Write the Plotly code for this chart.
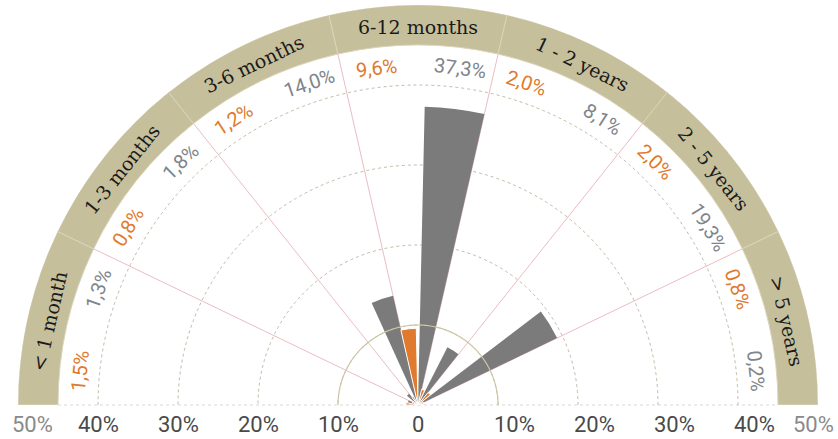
import math
import plotly.graph_objects as go

# ---------------- data ----------------
categories = ["< 1 month", "1-3 months", "3-6 months", "6-12 months",
              "1 - 2 years", "2 - 5 years", "> 5 years"]
orange_vals = [1.5, 0.8, 1.2, 9.6, 2.0, 2.0, 0.8]
gray_vals = [1.3, 1.8, 14.0, 37.3, 8.1, 19.3, 0.2]
grid_ticks = [10, 20, 30, 40]
tick_labels = ["10%", "20%", "30%", "40%"]
outer_label = "50%"

# ---------------- styling ----------------
ORANGE = "#e07a2e"
GRAY = "#7b7b7b"
GRAY_TXT = "#80858b"
TAN = "#c6bf9c"
TAN_LINE = "#d9d4bb"
PINK = "#ebbcc3"
W, H = 838, 439
CX, BASE_Y, R50 = 418, 405, 400   # pixel centre / baseline / 50% radius
Y_LOW = -4                         # room below the baseline for tick labels

n = len(categories)
sw = 180.0 / n
hi = [180 - k * sw for k in range(n)]
lo = [h - sw for h in hi]
mid = [h - sw / 2 for h in hi]
bar_w = 0.45 * sw
th_orange = [h - bar_w / 2 for h in hi]
th_gray = [l + bar_w / 2 for l in lo]

px_per_unit = R50 / 50.0
xdom = [(CX - R50) / W, (CX + R50) / W]
ydom = [(H - BASE_Y) / H, (H - BASE_Y + R50) / H]
ydom_cart = [(H - BASE_Y + Y_LOW * px_per_unit) / H, ydom[1]]

fig = go.Figure()

# outer tan band
fig.add_trace(go.Barpolar(
    r=[5] * n, base=[45] * n, theta=mid, width=[sw] * n,
    marker=dict(color=TAN, line=dict(color=TAN_LINE, width=1)),
    hoverinfo="skip", showlegend=False))

# solid 10% ring
ring_t = list(range(0, 181))
fig.add_trace(go.Scatterpolar(
    r=[10] * len(ring_t), theta=ring_t, mode="lines",
    line=dict(color="#cdc7a6", width=1.2), hoverinfo="skip", showlegend=False))

fig.add_trace(go.Barpolar(
    r=gray_vals, theta=th_gray, width=[bar_w] * n, name="gray",
    marker=dict(color=GRAY, line=dict(width=0)), showlegend=False))
fig.add_trace(go.Barpolar(
    r=orange_vals, theta=th_orange, width=[bar_w] * n, name="orange",
    marker=dict(color=ORANGE, line=dict(color="white", width=1)), showlegend=False))

# baseline (cartesian helper axes share the polar geometry)
fig.add_trace(go.Scatter(
    x=[-45, 45], y=[0, 0], mode="lines",
    line=dict(color="#d8d8d8", width=1, dash="dot"),
    hoverinfo="skip", showlegend=False, xaxis="x", yaxis="y"))

fig.update_layout(
    width=W, height=H, margin=dict(l=0, r=0, t=0, b=0),
    paper_bgcolor="white", plot_bgcolor="rgba(0,0,0,0)",
    template="none", showlegend=False,
    polar=dict(
        domain=dict(x=xdom, y=ydom),
        sector=[0, 180], bgcolor="rgba(0,0,0,0)",
        radialaxis=dict(range=[0, 50], tickvals=grid_ticks, showticklabels=False,
                        ticks="", showline=False, gridcolor="#bfbca8",
                        griddash="dot", gridwidth=1, layer="below traces"),
        angularaxis=dict(direction="counterclockwise", rotation=0,
                         thetaunit="degrees", tickvals=hi[1:],
                         showticklabels=False, ticks="", showline=False,
                         gridcolor=PINK, gridwidth=1, layer="below traces"),
        barmode="overlay",
    ),
    xaxis=dict(domain=xdom, range=[-50, 50], visible=False, fixedrange=True),
    yaxis=dict(domain=ydom_cart, range=[Y_LOW, 50], visible=False, fixedrange=True),
)

ann = []
VAL_FONT = "Roboto, Open Sans, sans-serif"


def pol(r, t):
    a = math.radians(t)
    return r * math.cos(a), r * math.sin(a)


def fmt(v):
    return f"{v:.1f}".replace(".", ",") + "%"


for k in range(n):
    for v, t, col in ((orange_vals[k], th_orange[k], ORANGE),
                      (gray_vals[k], th_gray[k], GRAY_TXT)):
        x, y = pol(42.5, t)
        ann.append(dict(x=x, y=y, xref="x", yref="y", text=fmt(v),
                        showarrow=False, textangle=90 - t,
                        xanchor="center", yanchor="middle",
                        font=dict(family=VAL_FONT, size=20, color=col)))
    x, y = pol(47.3, mid[k])
    ann.append(dict(x=x, y=y, xref="x", yref="y", text=categories[k],
                    showarrow=False, textangle=90 - mid[k],
                    xanchor="center", yanchor="middle",
                    font=dict(family="DejaVu Serif", size=19, color="#1a1a1a")))

TICK_Y = -2.4
TICK_FONT = dict(family=VAL_FONT, size=22, color="#4a4a4a")
for v, lab in zip(grid_ticks, tick_labels):
    ann.append(dict(x=-v, y=TICK_Y, xref="x", yref="y", text=lab,
                    showarrow=False, font=TICK_FONT))
    ann.append(dict(x=v + 2, y=TICK_Y, xref="x", yref="y", text=lab,
                    showarrow=False, font=TICK_FONT))
ann.append(dict(x=0, y=TICK_Y, xref="x", yref="y", text="0", showarrow=False,
                font=TICK_FONT))
OUTER_FONT = dict(family=VAL_FONT, size=22, color="#8a8a8a")
ann.append(dict(x=-48.2, y=TICK_Y, xref="x", yref="y", text=outer_label,
                showarrow=False, font=OUTER_FONT))
ann.append(dict(x=49.4, y=TICK_Y, xref="x", yref="y", text=outer_label,
                showarrow=False, font=OUTER_FONT))

fig.update_layout(annotations=ann)
fig.write_html("out.html", config={"displayModeBar": False},
               post_script="document.body.style.margin='0';")
